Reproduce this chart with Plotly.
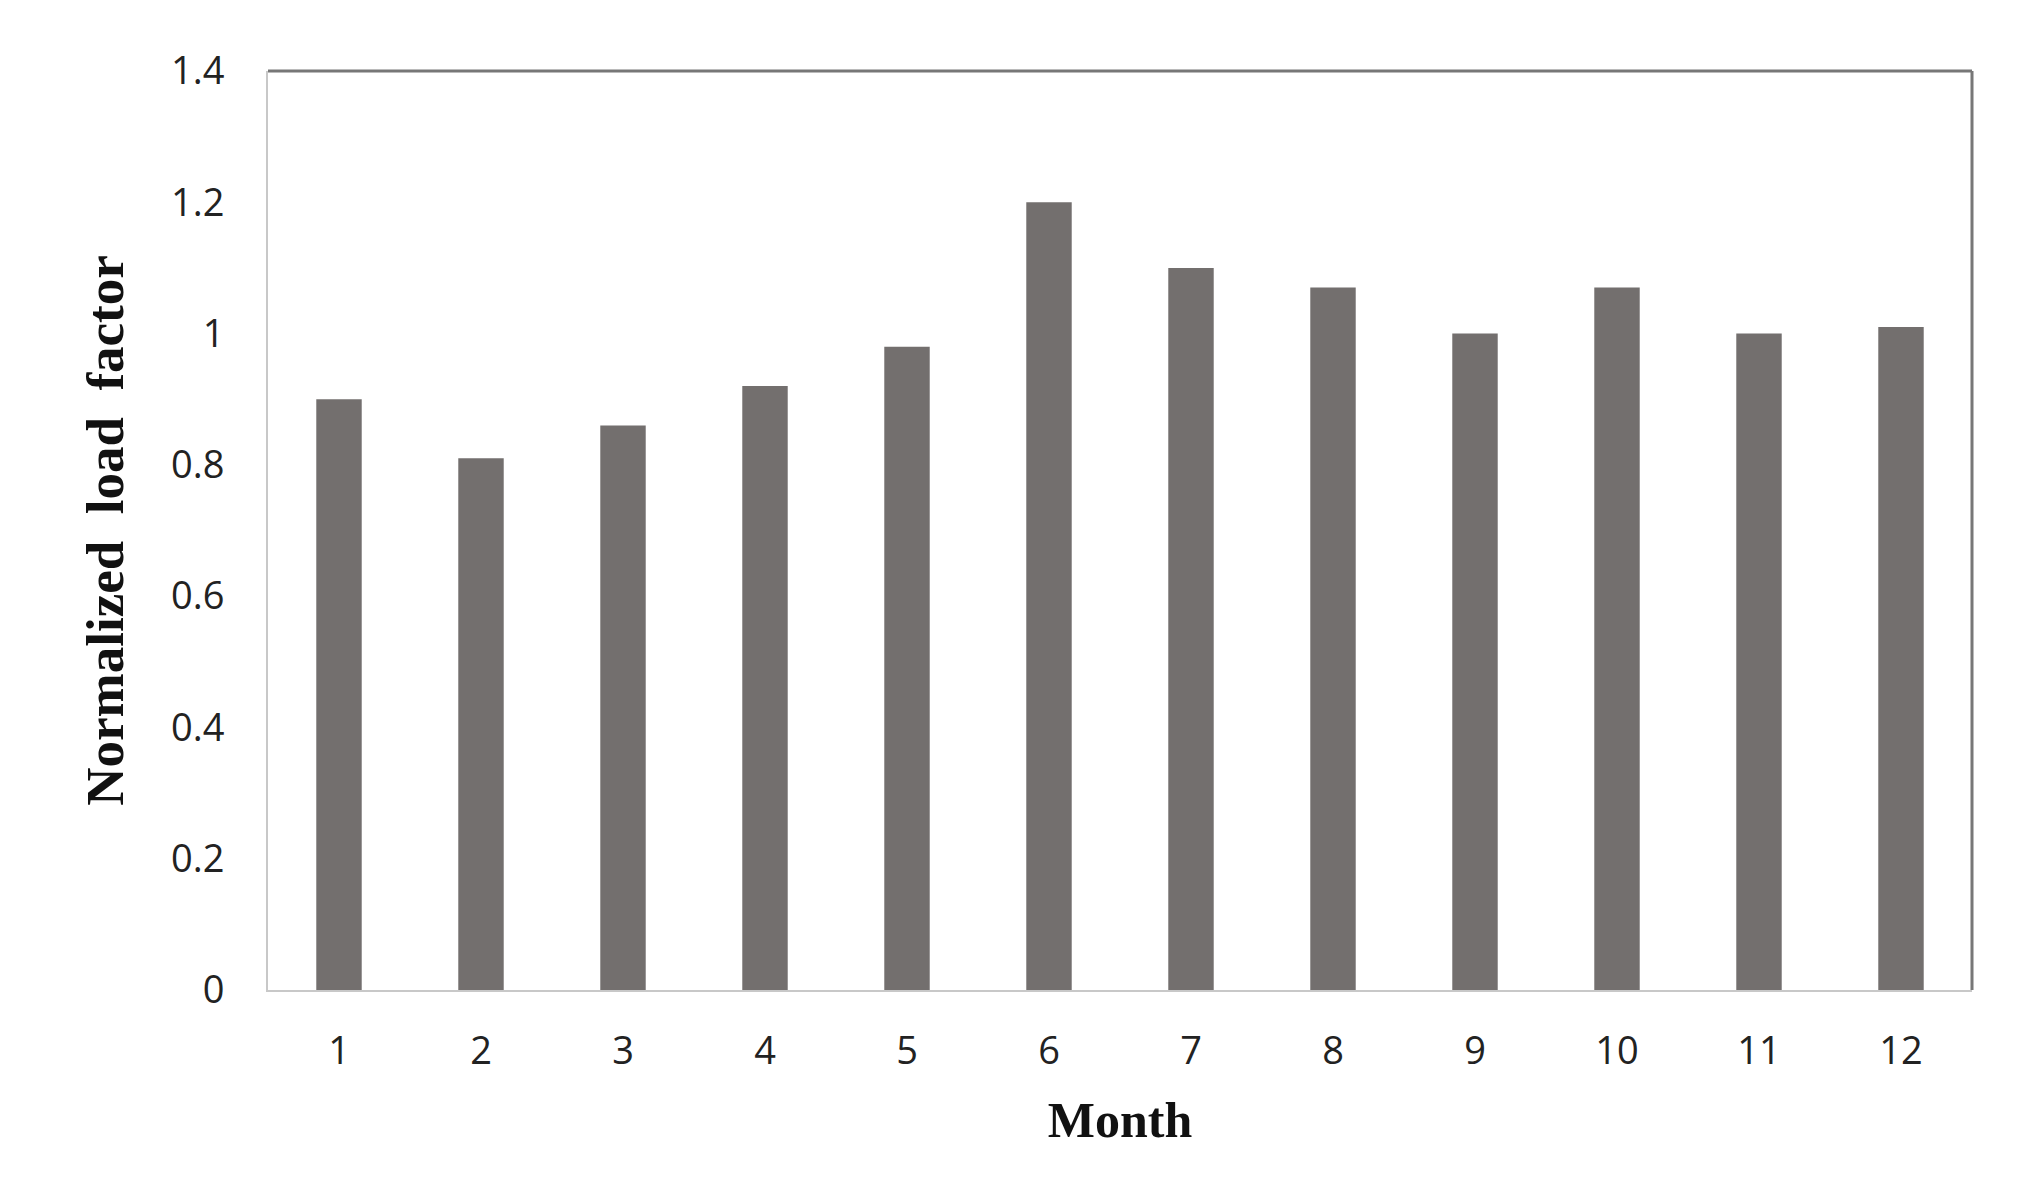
import plotly.graph_objects as go

months = ["1", "2", "3", "4", "5", "6", "7", "8", "9", "10", "11", "12"]
load_factor = [0.90, 0.81, 0.86, 0.92, 0.98, 1.20, 1.10, 1.07, 1.00, 1.07, 1.00, 1.01]
y_ticks = [0, 0.2, 0.4, 0.6, 0.8, 1, 1.2, 1.4]

fig = go.Figure(go.Bar(x=months, y=load_factor, marker_color="#736f6e", marker_line_width=0))
fig.update_layout(
    width=2036, height=1188, plot_bgcolor="white", paper_bgcolor="white",
    margin=dict(l=260, r=72, t=63, b=206), bargap=0.68, showlegend=False,
    font=dict(family="Open Sans, Liberation Sans, sans-serif", size=38, color="#222"),
)
fig.update_xaxes(title=dict(text="<b>Month</b>", font=dict(family="Liberation Serif", size=50, color="#111"), standoff=28),
                 showline=True, linecolor="#c8c8c8", linewidth=2, mirror=False, ticks="", ticklabelstandoff=26)
fig.update_yaxes(title=dict(text="<b>Normalized  load  factor</b>", font=dict(family="Liberation Serif", size=53, color="#111"), standoff=30),
                 range=[0, 1.4], tickvals=y_ticks, ticktext=[str(v) for v in y_ticks],
                 showgrid=False, showline=True, linecolor="#c8c8c8", linewidth=2, zeroline=False, ticks="", ticklabelstandoff=34)
# top and right frame lines
fig.add_shape(type="line", xref="paper", yref="paper", x0=0, x1=1, y0=1, y1=1, line=dict(color="#777", width=3))
fig.add_shape(type="line", xref="paper", yref="paper", x0=1, x1=1, y0=0, y1=1, line=dict(color="#777", width=3))
fig.write_html("out.html")
